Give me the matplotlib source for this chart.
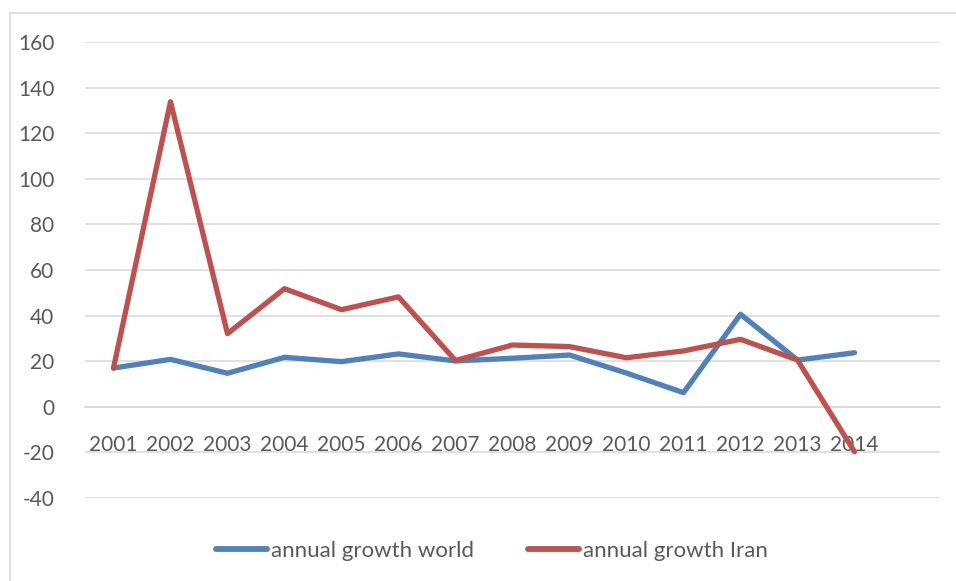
import matplotlib.pyplot as plt
from matplotlib.lines import Line2D

# Data
years = ["2001", "2002", "2003", "2004", "2005", "2006", "2007",
         "2008", "2009", "2010", "2011", "2012", "2013", "2014"]
growth_world = [17, 20.8, 14.7, 21.7, 19.8, 23.2, 20.1,
                21.3, 22.7, 14.8, 6.2, 40.6, 20.5, 23.7]
growth_iran = [17, 133.8, 32.1, 51.8, 42.6, 48.2, 20.3,
               27.1, 26.4, 21.5, 24.5, 29.6, 20.5, -19.7]

BLUE = "#4F81BD"
RED = "#C0504D"
TEXT = "#595959"
GRID = "#D9D9D9"

plt.rcParams["font.family"] = ["Lato", "DejaVu Sans"]
plt.rcParams["axes.unicode_minus"] = False

W, H = 956, 581
fig = plt.figure(figsize=(W / 100, H / 100), dpi=100)

# outer chart border (Excel chart area)
fig.patches.append(plt.Rectangle((10 / W, -0.1), 2, 1 - 13 / H + 0.1,
                                 transform=fig.transFigure, fill=False,
                                 edgecolor=GRID, lw=1.2))

ax = fig.add_axes([85 / W, 1 - 498 / H, (940 - 85) / W, (498 - 42) / H])

x = list(range(len(years)))
ax.plot(x, growth_world, color=BLUE, lw=3.8, solid_joinstyle="round",
        solid_capstyle="round", zorder=3, label="annual growth world")
ax.plot(x, growth_iran, color=RED, lw=3.8, solid_joinstyle="round",
        solid_capstyle="round", zorder=3, label="annual growth Iran")

ax.set_ylim(-40, 160)
ax.set_yticks(range(-40, 161, 20))
ax.set_xlim(-0.5, len(years) + 0.5)
ax.set_xticks(x)
ax.set_xticklabels(years)

ax.grid(axis="y", color=GRID, lw=1.1)
ax.set_axisbelow(True)
for side in ["top", "right", "left"]:
    ax.spines[side].set_visible(False)
ax.spines["bottom"].set_position(("data", 0))
ax.spines["bottom"].set_color(GRID)
ax.spines["bottom"].set_linewidth(1.1)

ax.tick_params(axis="y", length=0, pad=22, labelsize=15, labelcolor=TEXT)
ax.tick_params(axis="x", length=0, pad=20, labelsize=15, labelcolor=TEXT)

handles = [Line2D([], [], color=BLUE, lw=4.2, solid_capstyle="round"),
           Line2D([], [], color=RED, lw=4.2, solid_capstyle="round")]
fig.legend(handles, ["annual growth world", "annual growth Iran"],
           loc="center", bbox_to_anchor=(492 / W, 1 - 551 / H), ncol=2,
           frameon=False, fontsize=16, labelcolor=TEXT, handlelength=2.3,
           handletextpad=0.2, columnspacing=2.4)

fig.savefig("out.png", dpi=100)
